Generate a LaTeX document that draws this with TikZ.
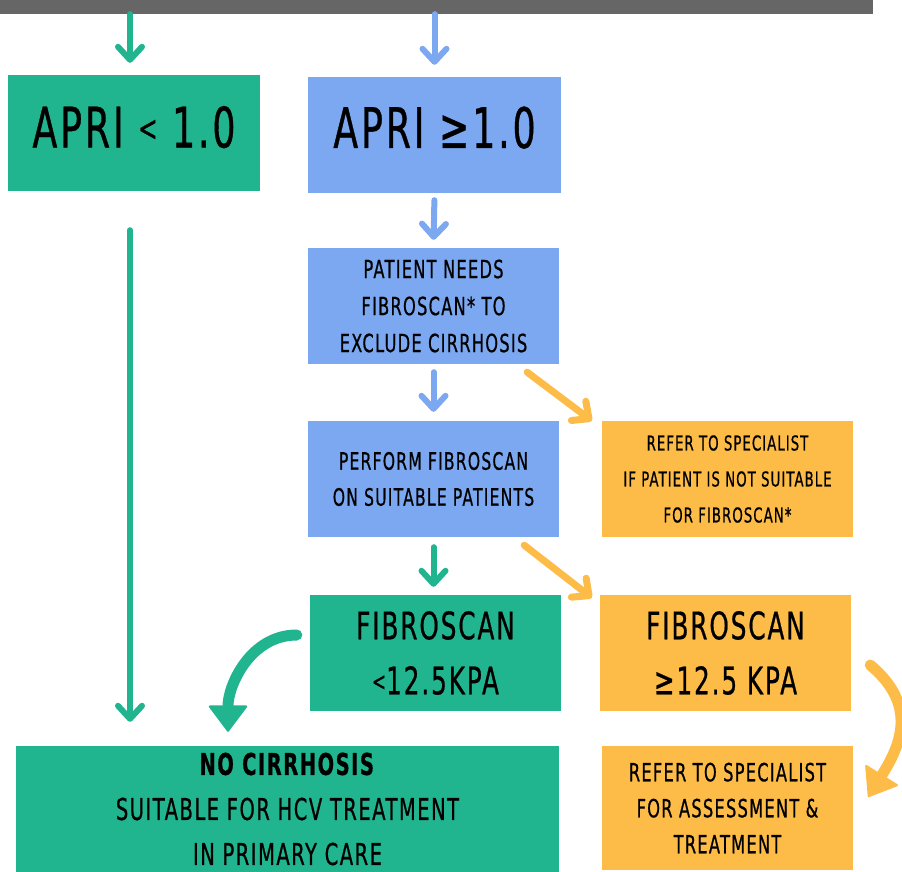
\documentclass[tikz,border=0pt]{standalone}
\usepackage{fontspec}
\usetikzlibrary{arrows.meta}
\newfontfamily\flowfont{DejaVu Sans}[FakeStretch=0.65,LetterSpace=5,FakeBold=0.6]
\definecolor{hcvgreen}{RGB}{33,181,143}
\definecolor{hcvblue}{RGB}{123,168,240}
\definecolor{hcvorange}{RGB}{253,187,72}
\definecolor{bargray}{RGB}{102,102,102}

\begin{document}
\begin{tikzpicture}[x=1pt, y=-1pt,
    box/.style={rectangle, inner sep=0pt, align=center, text=black, minimum width=251pt, minimum height=116pt},
    greenbox/.style={box, fill=hcvgreen},
    bluebox/.style={box, fill=hcvblue},
    orangebox/.style={box, fill=hcvorange},
    big/.style={font=\flowfont\fontsize{56}{60}\selectfont, text height=41pt},
    mid/.style={font=\flowfont\fontsize{38}{55}\selectfont},
    small/.style={font=\flowfont\fontsize{25}{37}\selectfont},
    flow/.style={line width=6pt, line cap=round, -{Straight Barb[length=13pt,width=24pt,round]}, shorten <=8pt, shorten >=8pt},
    curvearrow/.style={line width=11pt, line cap=round, -{Triangle[length=27pt,width=40pt,line width=2pt,round]}}
]
\useasboundingbox (0,0) rectangle (902,872);

% Balken oben
\node[fill=bargray, inner sep=0pt, minimum width=873pt, minimum height=14pt] (bar) at (436.5,7) {};

% APRI
\node[greenbox, big, text depth=12pt, minimum width=252pt] (apriLow) at (134,133) {APRI \raisebox{0.12em}{\fontsize{36}{36}\selectfont<} 1.0};
\node[bluebox, big, text depth=15pt, minimum width=253pt] (apriHigh) at (434.5,135) {APRI ≥1.0};

\draw[flow, hcvgreen, shorten <=0pt, shorten >=12pt] ([xshift=-4pt]apriLow.north |- bar.south) -- ([xshift=-4pt]apriLow.north);
\draw[flow, hcvblue, shorten <=0pt, shorten >=12pt] (apriHigh.north |- bar.south) -- (apriHigh.north);

% Fibroscan
\node[bluebox, small] (needs) at (433.5,306) {PATIENT NEEDS\\FIBROSCAN* TO\\EXCLUDE CIRRHOSIS};
\node[bluebox, small, font=\flowfont\fontsize{24}{36}\selectfont] (perform) at (433.5,479) {PERFORM FIBROSCAN\\ON SUITABLE PATIENTS};
\node[orangebox, font=\flowfont\fontsize{20.5}{36}\selectfont] (referUnsuit) at (727.5,479) {REFER TO SPECIALIST\\IF PATIENT IS NOT SUITABLE\\FOR FIBROSCAN*};

\draw[flow, hcvblue, shorten <=7pt] (apriHigh.south) -- (needs.north);
\draw[flow, hcvblue, shorten >=9pt] (needs.south) -- (perform.north);
\draw[flow, hcvorange, line width=7pt, shorten <=0pt, shorten >=0pt] ([xshift=-32pt, yshift=-8pt]needs.south east) -- ([xshift=-10pt]referUnsuit.north west);

% Ergebnisse
\node[greenbox, mid] (fibLow) at (435.5,653) {FIBROSCAN\\\raisebox{0.1em}{\fontsize{26}{26}\selectfont<}12.5KPA};
\node[orangebox, mid] (fibHigh) at (725.5,653) {FIBROSCAN\\≥12.5 KPA};

\draw[flow, hcvgreen, shorten <=10pt] (perform.south) -- (perform.south |- fibLow.north);
\draw[flow, hcvorange, line width=7pt, shorten <=0pt, shorten >=0pt] ([xshift=-35pt, yshift=-8pt]perform.south east) -- ([xshift=-8pt, yshift=-3pt]fibHigh.north west);

% Endpunkte
\node[greenbox, font=\flowfont\fontsize{30}{45}\selectfont, minimum width=543pt, minimum height=126pt] (noCirr) at (287.5,809) {\textbf{NO CIRRHOSIS}\\SUITABLE FOR HCV TREATMENT\\IN PRIMARY CARE};
\node[orangebox, font=\flowfont\fontsize{25}{36}\selectfont, minimum height=124pt] (referSpec) at (727.5,808) {REFER TO SPECIALIST\\FOR ASSESSMENT \&\\TREATMENT};

\draw[flow, hcvgreen, shorten <=39pt, shorten >=24pt] ([xshift=-4pt]apriLow.south) -- ([xshift=-4pt]apriLow.south |- noCirr.north);
\draw[curvearrow, hcvgreen] ([xshift=-13pt, yshift=18pt]fibLow.west) to[out=180, in=90] ([xshift=-59.5pt, yshift=14pt]noCirr.north);
\draw[curvearrow, hcvorange] ([xshift=19pt, yshift=-12pt]fibHigh.east) to[out=-40, in=58, looseness=1.2] ([xshift=15pt, yshift=11pt]referSpec.east);

\end{tikzpicture}
\end{document}
